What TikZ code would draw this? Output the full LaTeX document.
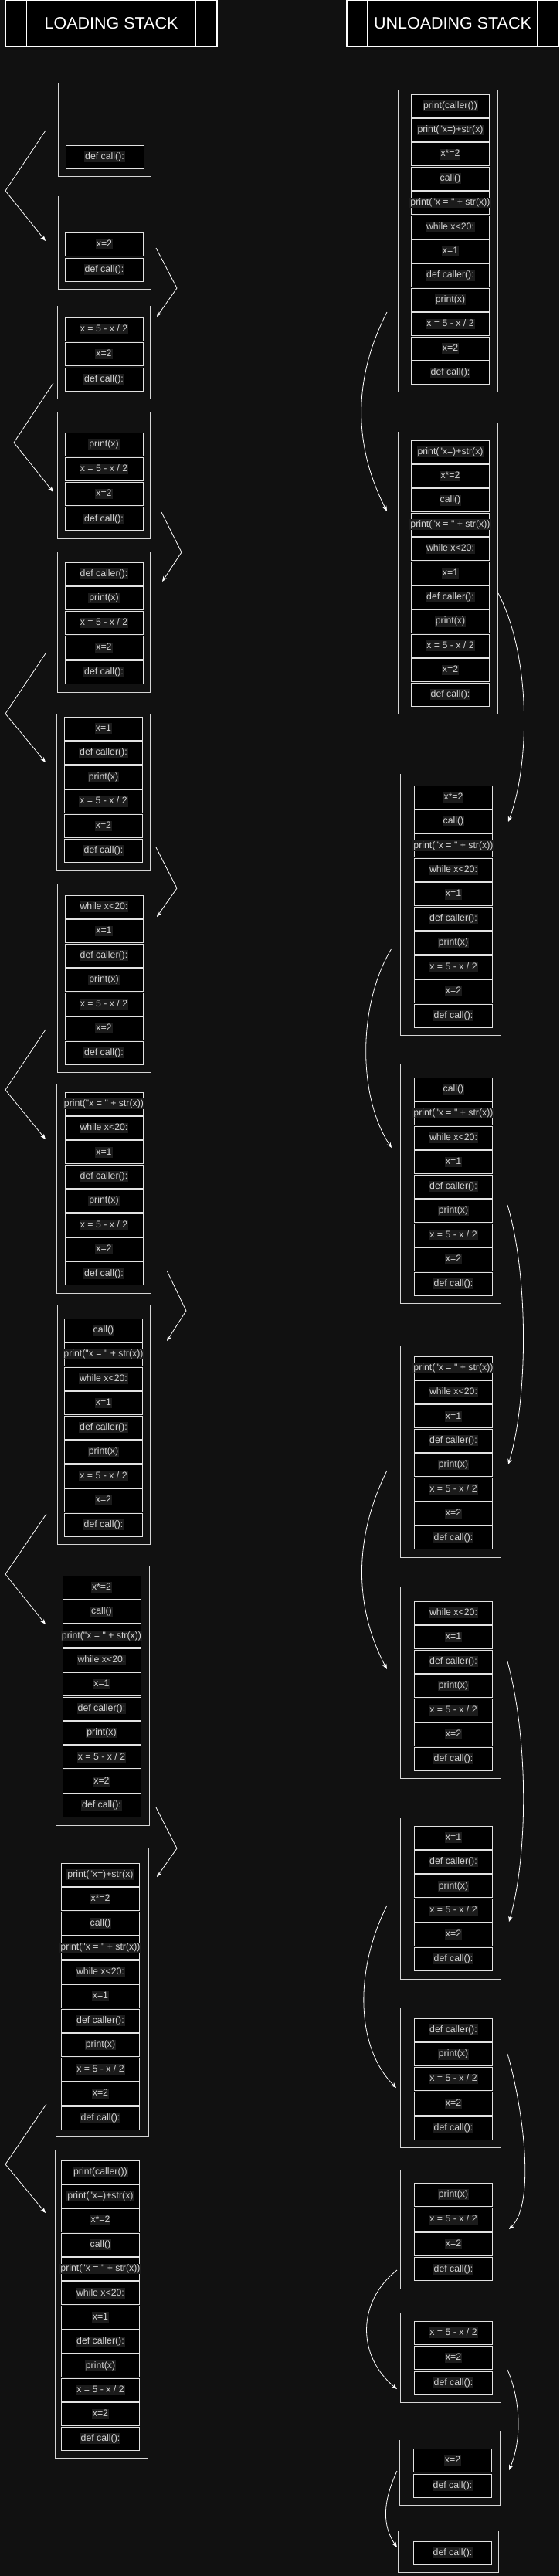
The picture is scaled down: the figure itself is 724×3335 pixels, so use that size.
\documentclass[tikz,border=0pt]{standalone}
\usepackage{fontspec}
\setmainfont{Liberation Sans}[Ligatures=TeXOff]
\usetikzlibrary{arrows.meta}
\definecolor{bg}{HTML}{111111}
\definecolor{lbg}{HTML}{1B1B1B}
\definecolor{txt}{HTML}{D4D4D4}
\definecolor{edge}{HTML}{E2E2E2}
\definecolor{cedge}{HTML}{D6D6D6}
\setlength{\fboxsep}{1pt}
\expandafter\def\csname itm1\endcsname{def call():}
\expandafter\def\csname itm2\endcsname{x=2}
\expandafter\def\csname itm3\endcsname{x = 5 - x / 2}
\expandafter\def\csname itm4\endcsname{print(x)}
\expandafter\def\csname itm5\endcsname{def caller():}
\expandafter\def\csname itm6\endcsname{x=1}
\expandafter\def\csname itm7\endcsname{while x<20:}
\expandafter\def\csname itm8\endcsname{print("x = " + str(x))}
\expandafter\def\csname itm9\endcsname{call()}
\expandafter\def\csname itm10\endcsname{x*=2}
\expandafter\def\csname itm11\endcsname{print("x=)+str(x)}
\expandafter\def\csname itm12\endcsname{print(caller())}
\tikzset{
  cell/.style={draw=edge, fill=black, line width=0.9pt, minimum width=101pt,
    minimum height=30pt, inner sep=0pt, text=txt, font=\fontsize{12.3}{14}\selectfont},
  cont/.style={draw=cedge, line width=0.9pt},
  hdr/.style={draw=white, fill=black, line width=1.2pt, minimum width=274pt,
    minimum height=60pt, inner sep=0pt, text=white, font=\fontsize{21.5}{24}\selectfont},
  arr/.style={draw=white, line width=0.8pt, -{Stealth[length=7pt,width=5.5pt,inset=2pt]}}
}
\newcommand\stackboxes[5]{%
  \foreach \j in {1,...,#2}{%
    \pgfmathtruncatemacro\k{#2-\j+1}%
    \pgfmathsetmacro\yy{#4+(\j-1)*#5+15}%
    \node[cell] (#1-\j) at (#3,\yy) {\makebox[0pt]{\colorbox{lbg}{\vphantom{(}\csname itm\k\endcsname}}};
  }}
\newcommand\stackcont[5]{\draw[cont] (#1,#3) -- (#1,#5) -- (#2,#5) -- (#2,#4);}
\begin{document}
\begin{tikzpicture}[x=1pt,y=-1pt]
\useasboundingbox (0,0) rectangle (724,3335);
\fill[bg] (0,0) rectangle (724,3335);
% headers
\node[hdr] (lhead) at (144,30.5) {LOADING STACK};
\draw[white,line width=1.2pt] ([xshift=28pt]lhead.north west) -- ([xshift=28pt]lhead.south west);
\draw[white,line width=1.2pt] ([xshift=-28pt]lhead.north east) -- ([xshift=-28pt]lhead.south east);
\node[hdr] (rhead) at (586,30.5) {UNLOADING STACK};
\draw[white,line width=1.2pt] ([xshift=27pt]rhead.north west) -- ([xshift=27pt]rhead.south west);
\draw[white,line width=1.2pt] ([xshift=-28pt]rhead.north east) -- ([xshift=-28pt]rhead.south east);
% left containers
\stackcont{75}{195}{108}{108}{228}
\stackcont{75}{195}{254}{254}{374}
\stackcont{74}{194}{396}{396}{516}
\stackcont{74}{194}{534}{534}{697}
\stackcont{74}{194}{715}{715}{896}
\stackcont{73}{194}{924}{924}{1126}
\stackcont{74}{195}{1144}{1144}{1388}
\stackcont{73}{195}{1404}{1404}{1674}
\stackcont{74}{194}{1690}{1690}{1999}
\stackcont{72}{193}{2028}{2028}{2363}
\stackcont{72}{192}{2392}{2392}{2766}
\stackcont{71}{191}{2783}{2783}{3182}
% left boxes
\stackboxes{L1}{1}{135.5}{188}{0}
\stackboxes{L2}{2}{135}{301}{33}
\stackboxes{L3}{3}{134.5}{411}{32.5}
\stackboxes{L4}{4}{134.5}{560}{32.3}
\stackboxes{L5}{5}{134.5}{728}{31.75}
\stackboxes{L6}{6}{134}{928}{31.6}
\stackboxes{L7}{7}{134.5}{1159}{31.5}
\stackboxes{L8}{8}{134.5}{1414}{31.4}
\stackboxes{L9}{9}{134}{1707}{31.5}
\stackboxes{L10}{10}{131.5}{2040}{31.4}
\stackboxes{L11}{11}{130}{2412}{31.5}
\stackboxes{L12}{12}{130}{2797}{31.36}
% right containers
\stackcont{515}{644}{117}{117}{507}
\stackcont{515}{644}{559}{547}{924}
\stackcont{518}{648}{1002}{1002}{1340}
\stackcont{518}{648}{1378}{1378}{1687}
\stackcont{518}{648}{1742}{1742}{2016}
\stackcont{518}{648}{2055}{2055}{2302}
\stackcont{518}{648}{2354}{2354}{2562}
\stackcont{518}{648}{2600}{2600}{2780}
\stackcont{518}{648}{2809}{2809}{2963}
\stackcont{518}{648}{2995}{2981}{3110}
\stackcont{517}{647}{3159}{3147}{3243}
\stackcont{515}{645}{3277}{3277}{3330}
% right boxes
\stackboxes{R1}{12}{583}{122}{31.4}
\stackboxes{R2}{11}{583}{570}{31.4}
\stackboxes{R3}{10}{587}{1017}{31.45}
\stackboxes{R4}{9}{587}{1395}{31.5}
\stackboxes{R5}{8}{587}{1756}{31.4}
\stackboxes{R6}{7}{587}{2073}{31.5}
\stackboxes{R7}{6}{587}{2364}{31.4}
\stackboxes{R8}{5}{587}{2613}{31.75}
\stackboxes{R9}{4}{587}{2826}{32.3}
\stackboxes{R10}{3}{587}{3005}{32.5}
\stackboxes{R11}{2}{586}{3170}{33}
\stackboxes{R12}{1}{586}{3290}{0}
% left zigzag connectors
\coordinate (b1s) at (59,169);  \coordinate (b1m) at (7,247);   \coordinate (b1e) at (59,312);
\coordinate (b2s) at (202,321); \coordinate (b2m) at (229,373); \coordinate (b2e) at (203,410);
\coordinate (b3s) at (69,496);  \coordinate (b3m) at (18,573);  \coordinate (b3e) at (69,637);
\coordinate (b4s) at (209,663); \coordinate (b4m) at (235,715); \coordinate (b4e) at (210,753);
\coordinate (b5s) at (59,846);  \coordinate (b5m) at (7,924);   \coordinate (b5e) at (59,987);
\coordinate (b6s) at (202,1097);\coordinate (b6m) at (229,1150);\coordinate (b6e) at (203,1187);
\coordinate (b7s) at (59,1333); \coordinate (b7m) at (7,1411);  \coordinate (b7e) at (59,1475);
\coordinate (b8s) at (216,1645);\coordinate (b8m) at (241,1697);\coordinate (b8e) at (216,1736);
\coordinate (b9s) at (60,1960); \coordinate (b9m) at (7,2038);  \coordinate (b9e) at (59,2103);
\coordinate (b10s) at (202,2340);\coordinate (b10m) at (229,2393);\coordinate (b10e) at (203,2430);
\coordinate (b11s) at (60,2724); \coordinate (b11m) at (7,2802); \coordinate (b11e) at (59,2865);
\foreach \i in {1,...,11}{\draw[arr] (b\i s) -- (b\i m) -- (b\i e);}
% right curved connectors
\coordinate (a1s) at (501,404);  \coordinate (a1e) at (501,662);
\coordinate (a2s) at (645,768);  \coordinate (a2e) at (658,1064);
\coordinate (a3s) at (507,1228); \coordinate (a3e) at (507,1486);
\coordinate (a4s) at (657,1560); \coordinate (a4e) at (658,1896);
\coordinate (a5s) at (501,1904); \coordinate (a5e) at (501,2161);
\coordinate (a6s) at (657,2151); \coordinate (a6e) at (659,2488);
\coordinate (a7s) at (501,2467); \coordinate (a7e) at (513,2703);
\coordinate (a8s) at (657,2659); \coordinate (a8e) at (659,2886);
\coordinate (a9s) at (514,2939); \coordinate (a9e) at (514,3093);
\coordinate (a10s) at (657,3068);\coordinate (a10e) at (659,3198);
\coordinate (a11s) at (514,3199);\coordinate (a11e) at (514,3298);
\draw[arr] (a1s) .. controls (457,490) and (457,576) .. (a1e);
\draw[arr] (a2s) .. controls (688,850) and (686,990) .. (a2e);
\draw[arr] (a3s) .. controls (463,1300) and (463,1420) .. (a3e);
\draw[arr] (a4s) .. controls (684,1650) and (684,1810) .. (a4e);
\draw[arr] (a5s) .. controls (458,1990) and (458,2080) .. (a5e);
\draw[arr] (a6s) .. controls (684,2250) and (684,2400) .. (a6e);
\draw[arr] (a7s) .. controls (459,2550) and (460,2650) .. (a7e);
\draw[arr] (a8s) .. controls (675,2720) and (695,2850) .. (a8e);
\draw[arr] (a9s) .. controls (462,2980) and (462,3050) .. (a9e);
\draw[arr] (a10s) .. controls (675,3110) and (675,3160) .. (a10e);
\draw[arr] (a11s) .. controls (495,3240) and (495,3270) .. (a11e);
\end{tikzpicture}
\end{document}
